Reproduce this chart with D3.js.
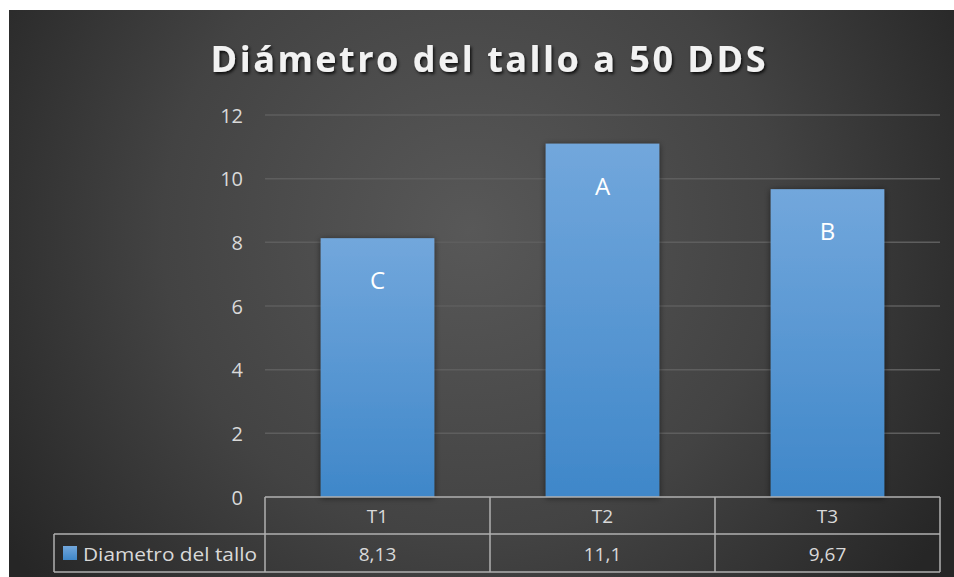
<!DOCTYPE html>
<html>
<head>
<meta charset="utf-8">
<script src="https://cdn.jsdelivr.net/npm/d3@7"></script>
<style>
  html, body { margin: 0; padding: 0; background: #ffffff; }
  svg { display: block; }
</style>
</head>
<body>
<div id="chart"></div>
<script>
// Chart data
const title = "Diámetro del tallo a 50 DDS";
const seriesName = "Diametro del tallo";
const categories = ["T1", "T2", "T3"];
const values = [8.13, 11.1, 9.67];
const valueLabels = ["8,13", "11,1", "9,67"];
const letters = ["C", "A", "B"];
const yTicks = [0, 2, 4, 6, 8, 10, 12];

const W = 954, H = 577;
const font = "'Open Sans', 'Noto Sans', sans-serif";

const svg = d3.select("#chart").append("svg")
  .attr("width", W).attr("height", H);

const defs = svg.append("defs");

const bg = defs.append("radialGradient").attr("id", "bgGrad")
  .attr("gradientUnits", "userSpaceOnUse")
  .attr("cx", 470).attr("cy", 230).attr("r", 560);
bg.append("stop").attr("offset", "0%").attr("stop-color", "#585858");
bg.append("stop").attr("offset", "55%").attr("stop-color", "#434343");
bg.append("stop").attr("offset", "100%").attr("stop-color", "#262626");

const barGrad = defs.append("linearGradient").attr("id", "barGrad")
  .attr("x1", 0).attr("y1", 0).attr("x2", 0).attr("y2", 1);
barGrad.append("stop").attr("offset", "0%").attr("stop-color", "#72a7dc");
barGrad.append("stop").attr("offset", "100%").attr("stop-color", "#3f87c9");

const shadow = defs.append("filter").attr("id", "barShadow")
  .attr("x", "-20%").attr("y", "-20%").attr("width", "140%").attr("height", "140%");
shadow.append("feDropShadow").attr("dx", 0).attr("dy", 1).attr("stdDeviation", 3)
  .attr("flood-color", "#000").attr("flood-opacity", 0.55);

const tShadow = defs.append("filter").attr("id", "titleShadow")
  .attr("x", "-10%").attr("y", "-30%").attr("width", "120%").attr("height", "160%");
tShadow.append("feDropShadow").attr("dx", 1.5).attr("dy", 2).attr("stdDeviation", 1.5)
  .attr("flood-color", "#000").attr("flood-opacity", 0.8);

// Background panel
svg.append("rect").attr("x", 9).attr("y", 10).attr("width", W - 9).attr("height", H - 10)
  .attr("fill", "url(#bgGrad)");

// Title
svg.append("text")
  .attr("x", 488).attr("y", 72)
  .attr("text-anchor", "middle")
  .attr("font-family", font).attr("font-weight", "bold").attr("font-size", 36)
  .attr("textLength", 555).attr("lengthAdjust", "spacing")
  .attr("fill", "#f2f2f2")
  .attr("filter", "url(#titleShadow)")
  .text(title);

// Scales
const plotLeft = 265, plotRight = 940;
const y = d3.scaleLinear().domain([0, 12]).range([497, 115]);
const x = d3.scaleBand().domain(categories).range([plotLeft, plotRight]).paddingInner(0).paddingOuter(0);
const barW = x.bandwidth() * 0.505;

// Gridlines
svg.append("g").selectAll("line").data(yTicks.filter(d => d > 0)).join("line")
  .attr("x1", plotLeft).attr("x2", plotRight)
  .attr("y1", d => y(d)).attr("y2", d => y(d))
  .attr("stroke", "#5e5e5e").attr("stroke-width", 1.5);

// Y axis labels
const yAxis = d3.axisLeft(y).tickValues(yTicks).tickSize(0).tickPadding(0);
const yg = svg.append("g").attr("transform", "translate(243,0)").call(yAxis);
yg.select(".domain").remove();
yg.selectAll("text")
  .attr("font-family", font).attr("font-size", 20).attr("fill", "#d9d9d9")
  .attr("dy", "0.35em");

// Bars
svg.append("g").selectAll("rect").data(values).join("rect")
  .attr("x", (d, i) => x(categories[i]) + (x.bandwidth() - barW) / 2)
  .attr("y", d => y(d))
  .attr("width", barW)
  .attr("height", d => y(0) - y(d))
  .attr("fill", "url(#barGrad)")
  .attr("filter", "url(#barShadow)");

// Letter labels inside bars
svg.append("g").selectAll("text").data(values).join("text")
  .attr("x", (d, i) => x(categories[i]) + x.bandwidth() / 2)
  .attr("y", d => y(d) + 51)
  .attr("text-anchor", "middle")
  .attr("font-family", font).attr("font-size", 24).attr("fill", "#ffffff")
  .text((d, i) => letters[i]);

// Data table
const rowTop = 497, rowMid = 534, rowBot = 572, legendLeft = 54;
const tbl = svg.append("g").attr("stroke", "#b0b0b0").attr("stroke-width", 1.5).attr("fill", "none");
tbl.append("line").attr("x1", plotLeft).attr("x2", plotRight).attr("y1", rowTop).attr("y2", rowTop);
tbl.append("line").attr("x1", legendLeft).attr("x2", plotRight).attr("y1", rowMid).attr("y2", rowMid);
tbl.append("line").attr("x1", legendLeft).attr("x2", plotRight).attr("y1", rowBot).attr("y2", rowBot);
tbl.append("line").attr("x1", legendLeft).attr("x2", legendLeft).attr("y1", rowMid).attr("y2", rowBot);
const colEdges = categories.map(c => x(c)).concat([plotRight]);
tbl.selectAll("line.col").data(colEdges).join("line").attr("class", "col")
  .attr("x1", d => d).attr("x2", d => d).attr("y1", rowTop).attr("y2", rowBot);

// Category row
svg.append("g").selectAll("text").data(categories).join("text")
  .attr("x", d => x(d) + x.bandwidth() / 2)
  .attr("y", (rowTop + rowMid) / 2 + 1)
  .attr("dy", "0.35em")
  .attr("text-anchor", "middle")
  .attr("font-family", font).attr("font-size", 19).attr("fill", "#d9d9d9")
  .text(d => d);

// Value row
svg.append("g").selectAll("text").data(valueLabels).join("text")
  .attr("x", (d, i) => x(categories[i]) + x.bandwidth() / 2)
  .attr("y", (rowMid + rowBot) / 2 + 1)
  .attr("dy", "0.35em")
  .attr("text-anchor", "middle")
  .attr("font-family", font).attr("font-size", 19).attr("fill", "#d9d9d9")
  .text(d => d);

// Legend key in table
svg.append("rect").attr("x", 63).attr("y", 546).attr("width", 14).attr("height", 14)
  .attr("fill", "url(#barGrad)");
svg.append("text")
  .attr("x", 83).attr("y", (rowMid + rowBot) / 2 + 1).attr("dy", "0.35em")
  .attr("font-family", font).attr("font-size", 19).attr("fill", "#d9d9d9")
  .attr("textLength", 174).attr("lengthAdjust", "spacingAndGlyphs")
  .text(seriesName);
</script>
</body>
</html>
